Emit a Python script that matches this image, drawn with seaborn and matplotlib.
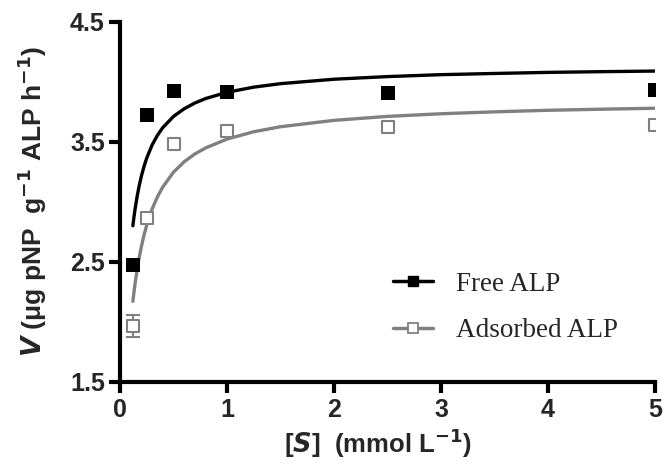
import matplotlib
matplotlib.use("Agg")
import matplotlib.pyplot as plt
import seaborn as sns
import pandas as pd
from matplotlib.lines import Line2D

# ---- data ----
s_points = [0.125, 0.25, 0.5, 1.0, 2.5, 5.0]
v_free = [2.47, 3.72, 3.92, 3.915, 3.91, 3.93]
v_ads = [1.965, 2.865, 3.485, 3.59, 3.625, 3.64]
err_ads = [0.09, 0, 0, 0, 0, 0]

curve_s = [0.12, 0.13, 0.14, 0.16, 0.18, 0.2, 0.225, 0.25, 0.3, 0.35, 0.4,
           0.5, 0.6, 0.7, 0.8, 1.0, 1.25, 1.5, 2.0, 2.5, 3.0, 3.5, 4.0, 4.5, 5.0]
curve_free = [2.800, 2.871, 2.936, 3.046, 3.138, 3.216, 3.297, 3.366, 3.474,
              3.555, 3.619, 3.712, 3.776, 3.824, 3.861, 3.913, 3.956, 3.985,
              4.022, 4.044, 4.060, 4.070, 4.079, 4.085, 4.090]
curve_ads = [2.170, 2.245, 2.314, 2.436, 2.539, 2.629, 2.725, 2.807, 2.940,
             3.042, 3.124, 3.247, 3.334, 3.399, 3.449, 3.523, 3.584, 3.626,
             3.679, 3.712, 3.734, 3.750, 3.763, 3.772, 3.780]

x_ticks = [0, 1, 2, 3, 4, 5]
y_ticks = [1.5, 2.5, 3.5, 4.5]
series_names = ["Free ALP", "Adsorbed ALP"]

# ---- style ----
sns.set_theme(style="ticks")
plt.rcParams["font.family"] = ["Liberation Sans Narrow", "Liberation Sans", "DejaVu Sans"]
plt.rcParams["mathtext.fontset"] = "custom"
plt.rcParams["mathtext.rm"] = "Liberation Sans Narrow:bold"
plt.rcParams["mathtext.bf"] = "Liberation Sans Narrow:bold"
plt.rcParams["mathtext.it"] = "Liberation Sans Narrow:bold:italic"

BLACK = "#000000"
GRAY = "#808080"

fig = plt.figure(figsize=(6.65, 4.66), dpi=100)
ax = fig.add_axes([0.1805, 0.181, 0.8045, 0.772])

curves = pd.DataFrame({
    "S": curve_s + curve_s,
    "V": curve_free + curve_ads,
    "series": [series_names[0]] * len(curve_s) + [series_names[1]] * len(curve_s),
})
sns.lineplot(data=curves, x="S", y="V", hue="series", palette=[BLACK, GRAY],
             estimator=None, sort=False, linewidth=2.4, legend=False, ax=ax)

ax.errorbar(s_points, v_ads, yerr=err_ads, fmt="none", ecolor=GRAY,
            elinewidth=1.5, capsize=5, capthick=1.5, zorder=3)
sns.scatterplot(x=s_points, y=v_ads, marker="s", s=85, facecolor="white",
                edgecolor=GRAY, linewidth=1.5, ax=ax, zorder=4)
sns.scatterplot(x=s_points, y=v_free, marker="s", s=95, color=BLACK,
                edgecolor=BLACK, linewidth=0, ax=ax, zorder=5)

ax.set_xlim(0, 5)
ax.set_ylim(1.5, 4.5)
ax.set_xticks(x_ticks)
ax.set_yticks(y_ticks)
ax.set_xticklabels([str(t) for t in x_ticks])
ax.set_yticklabels([str(t) for t in y_ticks])
sns.despine(ax=ax)
for sp in ["left", "bottom"]:
    ax.spines[sp].set_linewidth(3)
    ax.spines[sp].set_color(BLACK)
    ax.spines[sp].set_capstyle("projecting")
ax.tick_params(axis="both", which="major", length=8, width=3, color=BLACK,
               labelsize=18, pad=3)
ax.tick_params(axis="x", pad=4)
for lab in ax.get_xticklabels() + ax.get_yticklabels():
    lab.set_fontweight("bold")

ax.set_xlabel(r"[$\mathit{S}$]  (mmol L$^{-1}$)", fontsize=18.5, fontweight="bold")
ax.xaxis.set_label_coords(0.483, -0.125)
ax.set_ylabel(r"$\mathit{V}$ ($\mathregular{\mu}$g pNP  g$^{-1}$ ALP h$^{-1}$)",
              fontsize=19, fontweight="bold")
ax.yaxis.set_label_coords(-0.133, 0.5)

handles = [
    Line2D([0], [0], color=BLACK, lw=2.5, marker="s", markersize=7.5,
           markerfacecolor=BLACK, markeredgecolor=BLACK),
    Line2D([0], [0], color=GRAY, lw=2.5, marker="s", markersize=7.5,
           markerfacecolor="white", markeredgecolor=GRAY, markeredgewidth=1.3),
]
leg = ax.legend(handles, series_names, loc="upper left",
                bbox_to_anchor=(0.510, 0.305), frameon=False,
                borderpad=0, borderaxespad=0,
                prop={"family": "Liberation Serif", "size": 19.5},
                handlelength=1.49, handletextpad=0.85, labelspacing=0.78)

fig.savefig("out.png", dpi=100)
